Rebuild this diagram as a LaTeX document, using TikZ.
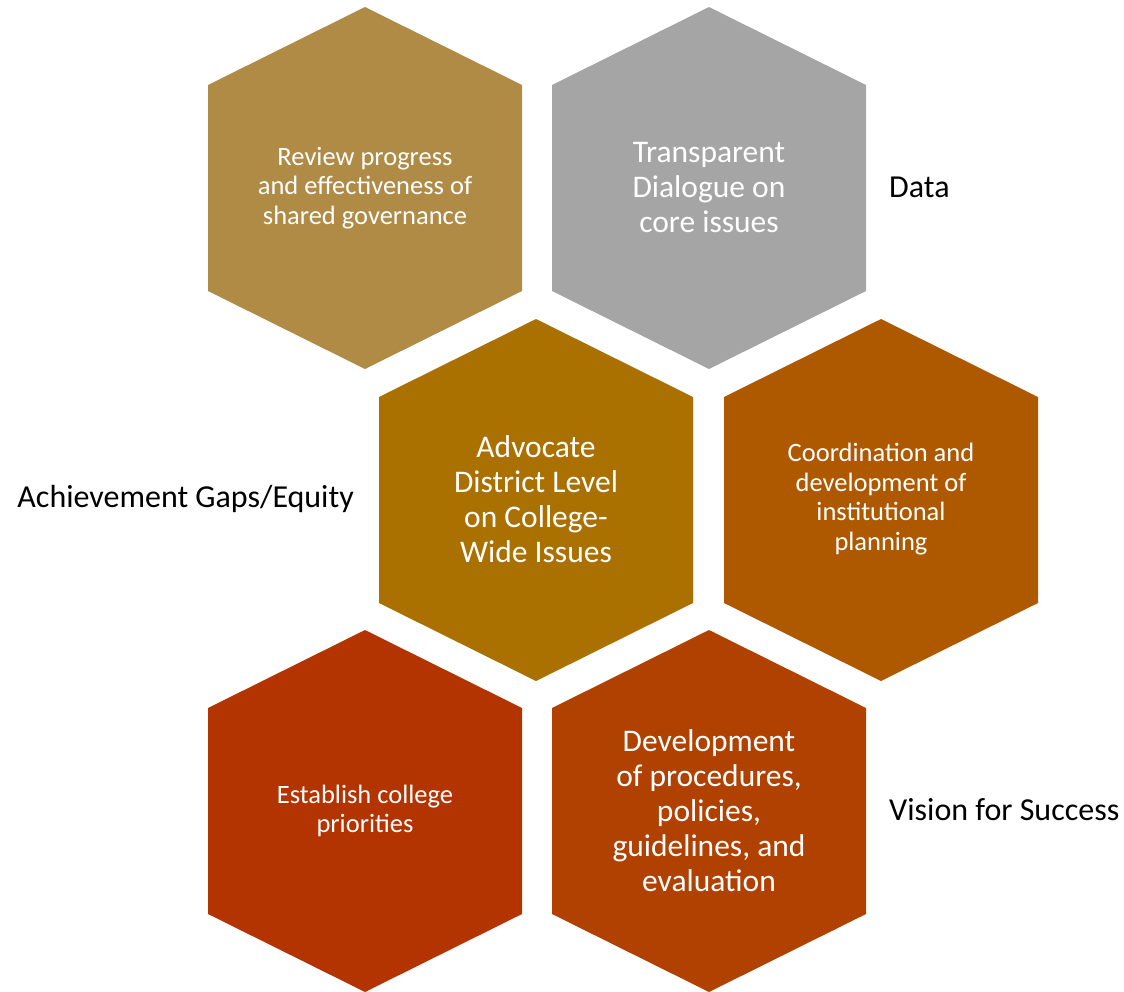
\documentclass[tikz,border=0pt]{standalone}
\usepackage{fontspec}
\setmainfont{Carlito}
\usepackage{tikz}
\definecolor{tanhex}{HTML}{AF8B46}
\definecolor{greyhex}{HTML}{A5A5A5}
\definecolor{goldhex}{HTML}{AA7000}
\definecolor{amberhex}{HTML}{AE5900}
\definecolor{rusthex}{HTML}{B33400}
\definecolor{copperhex}{HTML}{B04100}
% one cell of the honeycomb, centred on (#1,#2)
\newcommand{\cell}[3]{%
  \fill[#3] (#1,#2) ++(0,-181) -- ++(157,78) -- ++(0,206) -- ++(-157,78)
    -- ++(-157,-78) -- ++(0,-206) -- cycle;}
\tikzset{
  small text/.style={text=white, align=center, inner sep=0pt, font=\fontsize{26.5}{29.5}\selectfont},
  large text/.style={text=white, align=center, inner sep=0pt, font=\fontsize{31.5}{35}\selectfont},
  side text/.style={text=black, inner sep=0pt, font=\fontsize{32}{36}\selectfont}
}

\begin{document}
\begin{tikzpicture}[x=1pt, y=-1pt]
\useasboundingbox (0,0) rectangle (1124,991);
\cell{365}{188}{tanhex}
\cell{709}{188}{greyhex}
\cell{536}{500}{goldhex}
\cell{881}{500}{amberhex}
\cell{365}{811}{rusthex}
\cell{709}{811}{copperhex}
\node[small text] (review) at (365,188) {Review progress\\and effectiveness of\\shared governance};
\node[large text] (dialogue) at (709,188) {Transparent\\Dialogue on\\core issues};
\node[large text] (advocate) at (536,499) {Advocate\\District Level\\on College-\\Wide Issues};
\node[small text] (planning) at (881,499) {Coordination and\\development of\\institutional\\planning};
\node[small text] (priorities) at (365,811) {Establish college\\priorities};
\node[large text] (procedures) at (709,811) {Development\\of procedures,\\policies,\\guidelines, and\\evaluation};
\node[side text, anchor=west] (data) at (889,187) {Data};
\node[side text, anchor=east] (equity) at (354,499) {Achievement Gaps/Equity};
\node[side text, anchor=west] (vision) at (889,810) {Vision for Success};
\end{tikzpicture}
\end{document}
